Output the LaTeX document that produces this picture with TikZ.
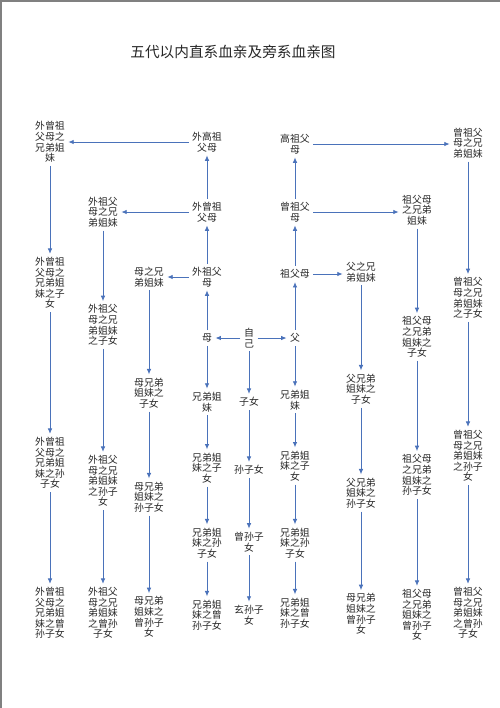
\documentclass[tikz,border=0pt]{standalone}
\usepackage{fontspec}
\newfontfamily\cjk{Noto Sans CJK SC}
\usetikzlibrary{arrows.meta}
\definecolor{arrowblue}{RGB}{74,114,186}
\definecolor{txtgray}{RGB}{40,40,40}
\begin{document}
\begin{tikzpicture}[x=0.75pt,y=-0.75pt,
 lbl/.style={font=\cjk\fontsize{7.4}{7.9}\selectfont, align=center, inner sep=2.5pt, text=txtgray},
 ttl/.style={font=\cjk\fontsize{11}{13}\selectfont, text=txtgray},
 arr/.style={draw=arrowblue, line width=0.6pt, -{Latex[length=4pt,width=3.4pt]}},
 pageedge/.style={draw=gray, line width=1.2pt}
]
\useasboundingbox (0,0) rectangle (500,708);
\fill[white] (0,0) rectangle (500,708);
\draw[pageedge] (0.8,708) -- (0.8,0.8) -- (500,0.8);

\node[ttl] (title) at (233,52) {五代以内直系血亲及旁系血亲图};

% column A
\node[lbl] (A1) at (50,142) {外曾祖\\父母之\\兄弟姐\\妹};
\node[lbl] (A2) at (50,283) {外曾祖\\父母之\\兄弟姐\\妹之子\\女};
\node[lbl] (A3) at (50,463) {外曾祖\\父母之\\兄弟姐\\妹之孙\\子女};
\node[lbl] (A4) at (50,613) {外曾祖\\父母之\\兄弟姐\\妹之曾\\孙子女};
% column B
\node[lbl] (B1) at (103,212) {外祖父\\母之兄\\弟姐妹};
\node[lbl] (B2) at (103,325) {外祖父\\母之兄\\弟姐妹\\之子女};
\node[lbl] (B3) at (103,481) {外祖父\\母之兄\\弟姐妹\\之孙子\\女};
\node[lbl] (B4) at (103,613) {外祖父\\母之兄\\弟姐妹\\之曾孙\\子女};
% column C
\node[lbl] (C1) at (149,277) {母之兄\\弟姐妹};
\node[lbl] (C2) at (149,393) {母兄弟\\姐妹之\\子女};
\node[lbl] (C3) at (149,497) {母兄弟\\姐妹之\\孙子女};
\node[lbl] (C4) at (149,617) {母兄弟\\姐妹之\\曾孙子\\女};
% column D
\node[lbl] (D1) at (207,142) {外高祖\\父母};
\node[lbl] (D2) at (207,212) {外曾祖\\父母};
\node[lbl] (D3) at (207,277) {外祖父\\母};
\node[lbl] (D4) at (207,338) {母};
\node[lbl] (D5) at (207,402) {兄弟姐\\妹};
\node[lbl] (D6) at (207,468) {兄弟姐\\妹之子\\女};
\node[lbl] (D7) at (207,543) {兄弟姐\\妹之孙\\子女};
\node[lbl] (D8) at (207,615) {兄弟姐\\妹之曾\\孙子女};
% column E
\node[lbl] (E1) at (249,338) {自\\己};
\node[lbl] (E2) at (249,402) {子女};
\node[lbl] (E3) at (249,470) {孙子女};
\node[lbl] (E4) at (249,542) {曾孙子\\女};
\node[lbl] (E5) at (249,615) {玄孙子\\女};
% column F
\node[lbl] (F1) at (295,144) {高祖父\\母};
\node[lbl] (F2) at (295,212) {曾祖父\\母};
\node[lbl] (F3) at (295,274) {祖父母};
\node[lbl] (F4) at (295,338) {父};
\node[lbl] (F5) at (295,400) {兄弟姐\\妹};
\node[lbl] (F6) at (295,466) {兄弟姐\\妹之子\\女};
\node[lbl] (F7) at (295,543) {兄弟姐\\妹之孙\\子女};
\node[lbl] (F8) at (295,613) {兄弟姐\\妹之曾\\孙子女};
% column G
\node[lbl] (G1) at (361,272) {父之兄\\弟姐妹};
\node[lbl] (G2) at (361,389) {父兄弟\\姐妹之\\子女};
\node[lbl] (G3) at (361,493) {父兄弟\\姐妹之\\孙子女};
\node[lbl] (G4) at (361,614) {母兄弟\\姐妹之\\曾孙子\\女};
% column H
\node[lbl] (H1) at (417,210) {祖父母\\之兄弟\\姐妹};
\node[lbl] (H2) at (417,337) {祖父母\\之兄弟\\姐妹之\\子女};
\node[lbl] (H3) at (417,475) {祖父母\\之兄弟\\姐妹之\\孙子女};
\node[lbl] (H4) at (417,615) {祖父母\\之兄弟\\姐妹之\\曾孙子\\女};
% column I
\node[lbl] (I1) at (468,143) {曾祖父\\母之兄\\弟姐妹};
\node[lbl] (I2) at (468,298) {曾祖父\\母之兄\\弟姐妹\\之子女};
\node[lbl] (I3) at (468,456) {曾祖父\\母之兄\\弟姐妹\\之孙子\\女};
\node[lbl] (I4) at (468,613) {曾祖父\\母之兄\\弟姐妹\\之曾孙\\子女};

% vertical chains
\foreach \c in {A,B,I}{
  \draw[arr] (\c1) -- (\c2);
  \draw[arr] (\c2) -- (\c3);
  \draw[arr] (\c3) -- (\c4);
}
\foreach \c in {C,G,H}{
  \draw[arr] (\c1) -- (\c2);
  \draw[arr] (\c2) -- (\c3);
  \draw[arr] (\c3) -- (\c4);
}
% ascending lines
\draw[arr] (D2) -- (D1);
\draw[arr] (D3) -- (D2);
\draw[arr] (D4) -- (D3);
\draw[arr] (F2) -- (F1);
\draw[arr] (F3) -- (F2);
\draw[arr] (F4) -- (F3);
% descending lines
\draw[arr] (D4) -- (D5);
\draw[arr] (D5) -- (D6);
\draw[arr] (D6) -- (D7);
\draw[arr] (D7) -- (D8);
\draw[arr] (F4) -- (F5);
\draw[arr] (F5) -- (F6);
\draw[arr] (F6) -- (F7);
\draw[arr] (F7) -- (F8);
\draw[arr] (E1) -- (E2);
\draw[arr] (E2) -- (E3);
\draw[arr] (E3) -- (E4);
\draw[arr] (E4) -- (E5);
% horizontal
\draw[arr] (E1) -- (D4);
\draw[arr] (E1) -- (F4);
\draw[arr] (D1.west) -- (D1.west -| A1.east);
\draw[arr] (D2.west) -- (D2.west -| B1.east);
\draw[arr] (D3.west) -- (D3.west -| C1.east);
\draw[arr] (F1.east) -- (F1.east -| I1.west);
\draw[arr] (F2.east) -- (F2.east -| H1.west);
\draw[arr] (F3.east) -- (F3.east -| G1.west);
\end{tikzpicture}
\end{document}
